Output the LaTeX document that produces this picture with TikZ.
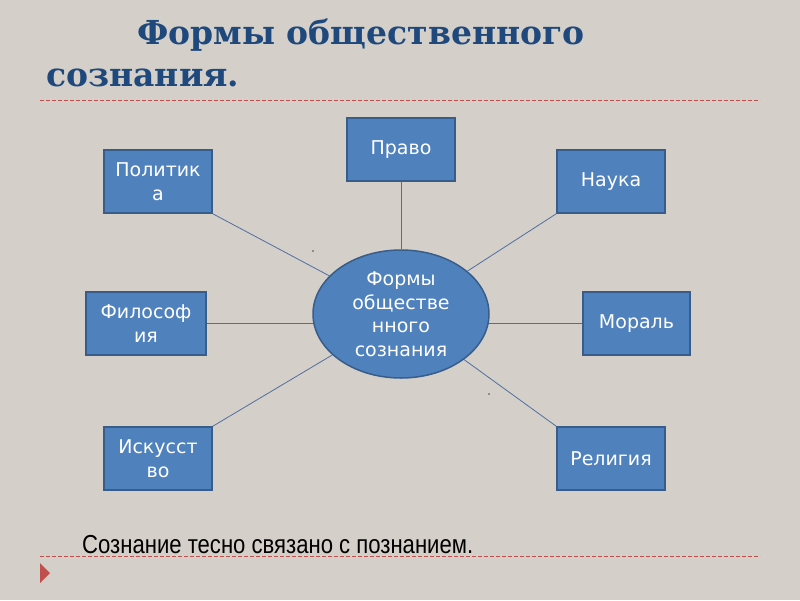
\documentclass[tikz,border=0pt]{standalone}
\usepackage{fontspec}
\setmainfont{DejaVu Sans}
\newfontfamily\titlefont{DejaVu Serif}
\newfontfamily\narrowfont[FakeStretch=0.85]{Liberation Sans}
\usetikzlibrary{shapes.geometric}
\definecolor{bg}{RGB}{212,208,201}
\definecolor{boxfill}{RGB}{79,129,189}
\definecolor{boxedge}{RGB}{56,93,138}
\definecolor{linkcol}{RGB}{80,110,160}
\definecolor{titlecol}{RGB}{31,73,125}
\definecolor{dashcol}{RGB}{192,80,77}
\pgfdeclarelayer{back}
\pgfdeclarelayer{links}
\pgfsetlayers{back,links,main}
\tikzset{
  box/.style={draw=boxedge, line width=1.5pt, fill=boxfill, text=white, align=center,
    inner sep=0pt, minimum height=63pt, font=\fontsize{19}{24}\selectfont},
  centre/.style={ellipse, draw=boxedge, line width=1.5pt, fill=boxfill, text=white, align=center,
    inner sep=0pt, minimum width=176pt, minimum height=128pt, font=\fontsize{19}{23.5}\selectfont},
  link/.style={draw=linkcol, line width=0.8pt},
  sepline/.style={draw=dashcol, line width=0.8pt, dash pattern=on 4pt off 2pt},
  titletext/.style={text=titlecol, font=\titlefont\bfseries\fontsize{33}{38}\selectfont, inner sep=0pt, anchor=west}
}
\begin{document}
\begin{tikzpicture}[x=1pt,y=-1pt]
\begin{pgfonlayer}{back}
\fill[bg] (0,0) rectangle (800,600);
\end{pgfonlayer}
\useasboundingbox (0,0) rectangle (800,600);
% title
\node[titletext] (t1) at (137,35) {Формы общественного};
\node[titletext] (t2) at (46,78) {сознания.};
\coordinate (d1a) at (40,100);
\coordinate (d1b) at (760,100);
\draw[sepline] (d1a) -- (d1b);
% nodes
\node[centre] (c) at (401,314) {Формы\\общеcтве\\нного\\сознания};
\node[box, minimum width=108pt] (pravo) at (401,149.5) {Право};
\node[box, minimum width=108pt] (pol) at (158,181.5) {Политик\\а};
\node[box, minimum width=108pt] (nauka) at (611,181.5) {Наука};
\node[box, minimum width=120pt] (fil) at (146,323.5) {Философ\\ия};
\node[box, minimum width=107pt] (mor) at (636.5,323.5) {Мораль};
\node[box, minimum width=108pt] (isk) at (158,458.5) {Искусст\\во};
\node[box, minimum width=108pt] (rel) at (611,458.5) {Религия};
% links
\begin{pgfonlayer}{links}
\draw[link] (pravo.south) -- (c);
\draw[link] (pol.south east) -- (c);
\draw[link] (nauka.south west) -- (c);
\draw[link] (fil.east) -- (fil.east -| c.center);
\draw[link] (mor.west) -- (mor.west -| c.center);
\draw[link] (isk.north east) -- (c);
\draw[link] (rel.north west) -- (c);
\end{pgfonlayer}
% small dots
\fill[black!70] (313,251) circle (0.9pt);
\fill[black!70] (489,394) circle (0.9pt);
% bottom
\node[anchor=west, inner sep=0pt, font=\narrowfont\fontsize{26}{28}\selectfont] (note) at (82,545) {Сознание тесно связано с познанием.};
\coordinate (d2a) at (40,556);
\coordinate (d2b) at (760,556);
\draw[sepline] (d2a) -- (d2b);
\fill[dashcol] (40,563) -- (50,573) -- (40,583) -- cycle;
\end{tikzpicture}
\end{document}
